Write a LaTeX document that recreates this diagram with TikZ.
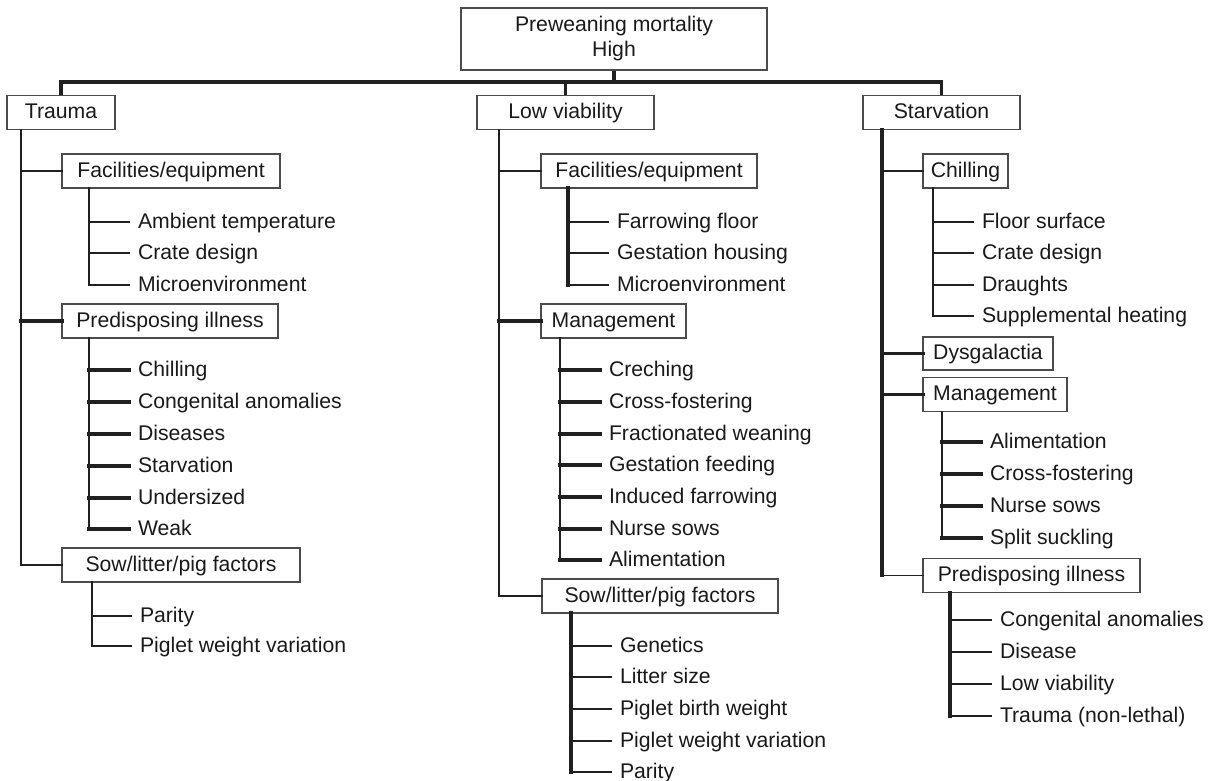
\documentclass[tikz,border=0pt]{standalone}
\usepackage{fontspec}
\setmainfont{Liberation Sans}
\usetikzlibrary{positioning, calc}
\definecolor{linegray}{RGB}{32, 32, 32}
\definecolor{boxgray}{RGB}{75, 75, 75}
\definecolor{textgray}{RGB}{25, 25, 25}

\begin{document}
\begin{tikzpicture}[
    x=1pt, y=-1pt,
    font=\fontsize{21.2}{25}\selectfont,
    every node/.style={text=textgray},
    box/.style={draw=boxgray, line width=1.6pt, anchor=west, minimum height=34pt, inner sep=0pt, outer sep=0pt, text height=16pt, text depth=4pt},
    item/.style={anchor=west, inner xsep=9pt, inner ysep=0pt, outer sep=0pt, text height=16pt, text depth=4pt},
    trunk/.style={draw=linegray, line width=3.8pt},
    heavy/.style={draw=linegray, line width=3.6pt, line cap=rect},
    light/.style={draw=linegray, line width=1.8pt, line cap=rect}
]
\useasboundingbox (0,0) rectangle (1212,781);

% Root and the three causes
\node[draw=boxgray, line width=1.6pt, minimum width=306pt, minimum height=62pt, inner sep=0pt, align=center] (root) at (614,39) {Preweaning mortality\\High};
\node[box, minimum width=108pt] (trauma) at (7,112.5) {Trauma};
\node[box, minimum width=177pt] (lowv) at (477,112.5) {Low viability};
\node[box, minimum width=157pt] (starv) at (863,112.5) {Starvation};

\coordinate (bar) at (614,82);
\draw[trunk] (root.south) -- (bar);
\draw[trunk] (trauma.north) |- (bar) -| (starv.north);
\draw[trunk] (lowv.north) -- (lowv.north |- bar);

% Trauma
\node[box, minimum width=218pt] (tfac) at (62,171) {Facilities/equipment};
\node[item] (tamb) at (129,222) {Ambient temperature};
\node[item] (tcra) at (129,253) {Crate design};
\node[item] (tmic) at (129,285) {Microenvironment};
\node[box, minimum width=216pt] (tpre) at (62,321) {Predisposing illness};
\node[item] (tchi) at (129,370) {Chilling};
\node[item] (tcon) at (129,402) {Congenital anomalies};
\node[item] (tdis) at (129,434) {Diseases};
\node[item] (tsta) at (129,466) {Starvation};
\node[item] (tund) at (129,498) {Undersized};
\node[item] (twea) at (129,529) {Weak};
\node[box, minimum width=238pt] (tsow) at (62,565) {Sow/litter/pig factors};
\node[item] (tpar) at (131,616) {Parity};
\node[item] (tpwv) at (131,646) {Piglet weight variation};

\coordinate (tT) at ([xshift=14pt]trauma.south west);
\draw[light] (tT) |- (tsow.west);
\draw[light] (tT |- tfac.west) -- (tfac.west);
\draw[heavy] (tT |- tpre.west) -- (tpre.west);

\coordinate (tF) at ([xshift=27pt]tfac.south west);
\draw[light] (tF) -- (tF |- tmic.west);
\draw[light] (tF |- tamb.west) -- (tamb.west) (tF |- tcra.west) -- (tcra.west) (tF |- tmic.west) -- (tmic.west);

\coordinate (tP) at ([xshift=27pt]tpre.south west);
\draw[light] (tP) -- (tP |- twea.west);
\draw[heavy] (tP |- tchi.west) -- (tchi.west) (tP |- tcon.west) -- (tcon.west) (tP |- tdis.west) -- (tdis.west)
    (tP |- tsta.west) -- (tsta.west) (tP |- tund.west) -- (tund.west) (tP |- twea.west) -- (twea.west);

\coordinate (tS) at ([xshift=30pt]tsow.south west);
\draw[light] (tS) -- (tS |- tpwv.west);
\draw[light] (tS |- tpar.west) -- (tpar.west) (tS |- tpwv.west) -- (tpwv.west);

% Low viability
\node[box, minimum width=216pt] (mfac) at (541,171) {Facilities/equipment};
\node[item] (mfar) at (608,222) {Farrowing floor};
\node[item] (mges) at (608,253) {Gestation housing};
\node[item] (mmic) at (608,285) {Microenvironment};
\node[box, minimum width=145pt] (mman) at (541,321) {Management};
\node[item] (mcre) at (600,370) {Creching};
\node[item] (mcro) at (600,402) {Cross-fostering};
\node[item] (mfra) at (600,434) {Fractionated weaning};
\node[item] (mgfe) at (600,465) {Gestation feeding};
\node[item] (mind) at (600,497) {Induced farrowing};
\node[item] (mnur) at (600,529) {Nurse sows};
\node[item] (mali) at (600,560) {Alimentation};
\node[box, minimum width=236pt] (msow) at (542,596) {Sow/litter/pig factors};
\node[item] (mgen) at (611,646) {Genetics};
\node[item] (mlit) at (611,677) {Litter size};
\node[item] (mpbw) at (611,709) {Piglet birth weight};
\node[item] (mpwv) at (611,741) {Piglet weight variation};
\node[item] (mpar) at (611,772) {Parity};

\coordinate (mT) at ([xshift=22pt]lowv.south west);
\draw[light] (mT) |- (msow.west);
\draw[light] (mT |- mfac.west) -- (mfac.west);
\draw[heavy] (mT |- mman.west) -- (mman.west);

\coordinate (mF) at ([xshift=27pt]mfac.south west);
\draw[heavy] (mF) -- (mF |- mmic.west);
\draw[light] (mF |- mfar.west) -- (mfar.west) (mF |- mges.west) -- (mges.west) (mF |- mmic.west) -- (mmic.west);

\coordinate (mM) at ([xshift=19pt]mman.south west);
\draw[light] (mM) -- (mM |- mali.west);
\draw[heavy] (mM |- mcre.west) -- (mcre.west) (mM |- mcro.west) -- (mcro.west) (mM |- mfra.west) -- (mfra.west)
    (mM |- mgfe.west) -- (mgfe.west) (mM |- mind.west) -- (mind.west) (mM |- mnur.west) -- (mnur.west)
    (mM |- mali.west) -- (mali.west);

\coordinate (mS) at ([xshift=29pt]msow.south west);
\draw[heavy] (mS) -- (mS |- mpar.west);
\draw[light] (mS |- mgen.west) -- (mgen.west) (mS |- mlit.west) -- (mlit.west) (mS |- mpbw.west) -- (mpbw.west)
    (mS |- mpwv.west) -- (mpwv.west) (mS |- mpar.west) -- (mpar.west);

% Starvation
\node[box, minimum width=85pt] (rchi) at (923,171) {Chilling};
\node[item] (rflo) at (973,222) {Floor surface};
\node[item] (rcra) at (973,253) {Crate design};
\node[item] (rdra) at (973,285) {Draughts};
\node[item] (rsup) at (973,316) {Supplemental heating};
\node[box, minimum width=130pt, minimum height=33pt] (rdys) at (923,353.5) {Dysgalactia};
\node[box, minimum width=144pt] (rman) at (923,394.5) {Management};
\node[item] (rali) at (981,442) {Alimentation};
\node[item] (rcro) at (981,474) {Cross-fostering};
\node[item] (rnur) at (981,506) {Nurse sows};
\node[item] (rspl) at (981,538) {Split suckling};
\node[box, minimum width=217pt] (rpre) at (923,575.5) {Predisposing illness};
\node[item] (rcon) at (991,620) {Congenital anomalies};
\node[item] (rdis) at (991,652) {Disease};
\node[item] (rlow) at (991,684) {Low viability};
\node[item] (rtra) at (991,716) {Trauma (non-lethal)};

\coordinate (rT) at ([xshift=19pt]starv.south west);
\draw[heavy] (rT) -- (rT |- rpre.west);
\draw[light] (rT |- rchi.west) -- (rchi.west) (rT |- rpre.west) -- (rpre.west);
\draw[heavy] (rT |- rdys.west) -- (rdys.west) (rT |- rman.west) -- (rman.west);

\coordinate (rC) at ([xshift=10pt]rchi.south west);
\draw[light] (rC) -- (rC |- rsup.west);
\draw[light] (rC |- rflo.west) -- (rflo.west) (rC |- rcra.west) -- (rcra.west) (rC |- rdra.west) -- (rdra.west)
    (rC |- rsup.west) -- (rsup.west);

\coordinate (rM) at ([xshift=19pt]rman.south west);
\draw[light] (rM) -- (rM |- rspl.west);
\draw[heavy] (rM |- rali.west) -- (rali.west) (rM |- rcro.west) -- (rcro.west) (rM |- rnur.west) -- (rnur.west)
    (rM |- rspl.west) -- (rspl.west);

\coordinate (rP) at ([xshift=27pt]rpre.south west);
\draw[heavy] (rP) -- (rP |- rtra.west);
\draw[light] (rP |- rcon.west) -- (rcon.west) (rP |- rdis.west) -- (rdis.west) (rP |- rlow.west) -- (rlow.west)
    (rP |- rtra.west) -- (rtra.west);

\end{tikzpicture}
\end{document}
